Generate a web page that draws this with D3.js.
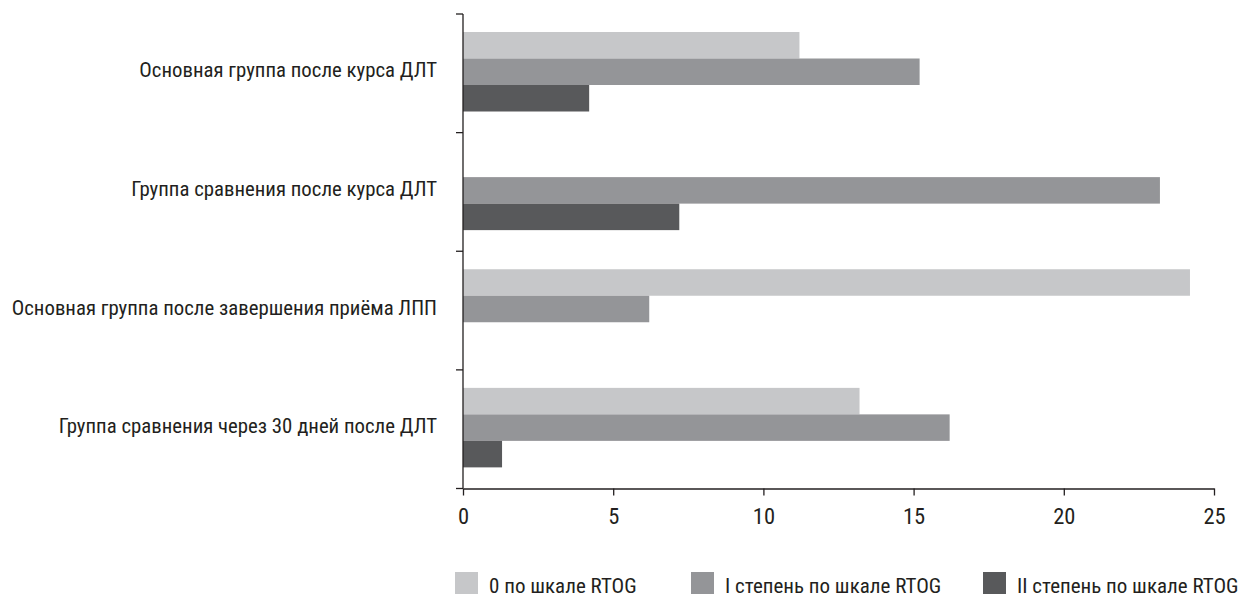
<!DOCTYPE html>
<html><head><meta charset="utf-8">
<script src="https://cdn.jsdelivr.net/npm/d3@7/dist/d3.min.js"></script>
<style>
body{margin:0;background:#fff;}
text{font-family:"Roboto Condensed",Roboto,sans-serif;font-stretch:condensed;fill:#231f20;}
</style></head><body>
<svg id="c" width="1238" height="594"></svg>
<script>
const categories = [
  "Основная группа после курса ДЛТ",
  "Группа сравнения после курса ДЛТ",
  "Основная группа после завершения приёма ЛПП",
  "Группа сравнения через 30 дней после ДЛТ"
];
const seriesNames = ["0 по шкале RTOG", "I степень по шкале RTOG", "II степень по шкале RTOG"];
const grade0 = [11.2, 0, 24.2, 13.2];
const grade1 = [15.2, 23.2, 6.2, 16.2];
const grade2 = [4.2, 7.2, 0, 1.3];
const xTicks = [0, 5, 10, 15, 20, 25];
const colors = ["#c6c7c9", "#949598", "#58595b"];

const series = [grade0, grade1, grade2];
const svg = d3.select("#c");
const x = d3.scaleLinear().domain([0, 25]).range([463, 1214]);
const y = d3.scaleBand().domain(categories).range([14, 488.5]).padding(0);
const sub = d3.scaleBand().domain(d3.range(3)).range([18, 97.5]).padding(0);
const ink = "#231f20";

const g = svg.append("g");
categories.forEach((c, ci) => {
  series.forEach((s, si) => {
    if (s[ci] > 0) {
      g.append("rect")
        .attr("x", x(0))
        .attr("y", y(c) + sub(si))
        .attr("width", x(s[ci]) - x(0))
        .attr("height", sub.bandwidth())
        .attr("fill", colors[si]);
    }
  });
});

// y axis: ticks at band boundaries
const yb = svg.append("g");
yb.append("line").attr("x1", x(0)).attr("x2", x(0)).attr("y1", y.range()[0]).attr("y2", y.range()[1])
  .attr("stroke", ink).attr("stroke-width", 1.3);
const bounds = categories.map(c => y(c)).concat([y.range()[1]]);
bounds.forEach(b => {
  yb.append("line").attr("x1", x(0) - 7).attr("x2", x(0)).attr("y1", b).attr("y2", b)
    .attr("stroke", ink).attr("stroke-width", 1.3);
});
categories.forEach(c => {
  yb.append("text").attr("x", x(0) - 26).attr("y", y(c) + y.bandwidth() / 2 - 3)
    .attr("text-anchor", "end").attr("dominant-baseline", "central")
    .style("font-size", "20.8px").text(c);
});

// x axis
const xAxis = d3.axisBottom(x).tickValues(xTicks).tickSize(7).tickSizeOuter(0).tickPadding(13);
const xa = svg.append("g").attr("transform", `translate(0,${y.range()[1]})`).call(xAxis);
xa.select(".domain").attr("stroke", ink).attr("stroke-width", 1.3);
xa.selectAll(".tick line").attr("stroke", ink).attr("stroke-width", 1.3);
xa.selectAll(".tick text").style("font-size", "22.5px").style("font-family", '"Roboto Condensed",Roboto,sans-serif').attr("fill", ink);

// legend
const legX = [455, 691, 983];
seriesNames.forEach((n, i) => {
  svg.append("rect").attr("x", legX[i]).attr("y", 572).attr("width", 23).attr("height", 22).attr("fill", colors[i]);
  svg.append("text").attr("x", legX[i] + 34).attr("y", 593).style("font-size", "21px").text(n);
});
</script></body></html>
